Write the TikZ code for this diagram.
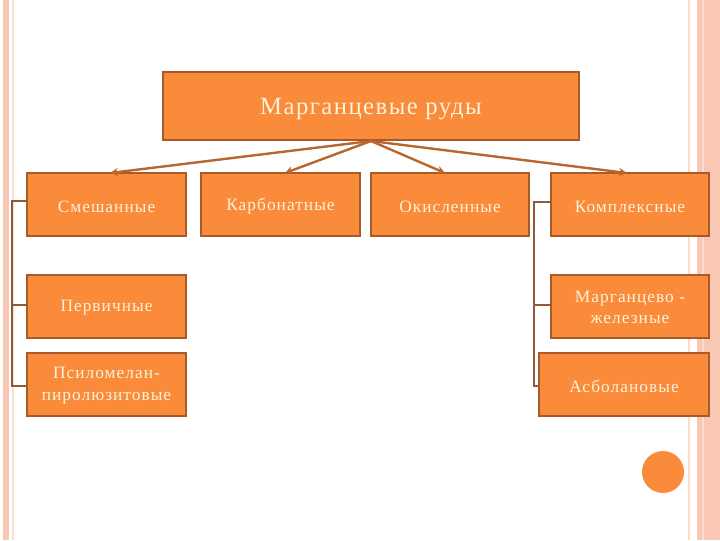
\documentclass[tikz,border=0pt]{standalone}
\usepackage{fontspec}
\setmainfont{Liberation Serif}
\newfontfamily\wide[LetterSpace=6]{Liberation Serif}
\usetikzlibrary{arrows.meta}
\definecolor{boxfill}{HTML}{F98B3A}
\definecolor{boxedge}{HTML}{A85A28}
\definecolor{txt}{HTML}{FFF2DC}
\definecolor{arr}{HTML}{B8652E}
\definecolor{brk}{HTML}{8E5A3A}
\definecolor{stripe}{HTML}{F9C8B4}
\definecolor{stripel}{HTML}{FBDCCE}
\tikzset{
  obox/.style={draw=boxedge, line width=1pt, fill=boxfill, text=txt, align=center, font=\wide\fontsize{13}{16}\selectfont},
  conn/.style={draw=arr, line width=1.8pt, -{Stealth[length=6pt,width=6pt]}},
  brack/.style={draw=brk, line width=1pt},
}
\begin{document}
\begin{tikzpicture}[x=0.75pt,y=-0.75pt]
\useasboundingbox (0,0) rectangle (720,540);
% decorative stripes
\fill[stripe] (3,0) rectangle (9,540);
\draw[stripel, line width=1pt] (13,0) -- (13,540);
\draw[stripel, line width=1pt] (689,0) -- (689,540);
\fill[stripe] (697,0) rectangle (720,540);
\draw[stripel, line width=1pt] (703,0) -- (703,540);
% boxes
\path[obox] (163,72) rectangle (579,140);
\node[text=txt, font=\wide\fontsize{18.5}{22}\selectfont] (top) at (371,109) {Марганцевые руды};
\coordinate (topc) at (371,141);
\path[obox] (27,173) rectangle (186,236);
\node[obox, draw=none, fill=none] (sm) at (106.5,206.5) {Смешанные};
\path[obox] (201,173) rectangle (360,236);
\node[obox, draw=none, fill=none] (ka) at (280.5,206.5) {Карбонатные};
\path[obox] (371,173) rectangle (529,236);
\node[obox, draw=none, fill=none] (ok) at (450,206.5) {Окисленные};
\path[obox] (551,173) rectangle (709,236);
\node[obox, draw=none, fill=none] (ko) at (630,206.5) {Комплексные};
\path[obox] (27,275) rectangle (186,338);
\node[obox, draw=none, fill=none] (pe) at (106.5,308) {Первичные};
\path[obox] (27,353) rectangle (186,416);
\node[obox, draw=none, fill=none] (ps) at (106.5,385.5) {Псиломелан-\\пиролюзитовые};
\path[obox] (551,275) rectangle (709,338);
\node[obox, draw=none, fill=none] (mz) at (630,307.5) {Марганцево -\\железные};
\path[obox] (539,353) rectangle (709,416);
\node[obox, draw=none, fill=none] (as) at (624,386.5) {Асболановые};
% arrows
\coordinate (a1) at (110,173);
\coordinate (a2) at (285,173);
\coordinate (a3) at (445,173);
\coordinate (a4) at (627,173);
\draw[conn] (topc) -- (a1);
\draw[conn] (topc) -- (a2);
\draw[conn] (topc) -- (a3);
\draw[conn] (topc) -- (a4);
% brackets
\draw[brack] (27,201) -- (12,201) -- (12,386) -- (27,386);
\draw[brack] (12,305) -- (27,305);
\draw[brack] (551,202) -- (534,202) -- (534,386) -- (539,386);
\draw[brack] (534,305) -- (551,305);
% circle
\fill[boxfill] (663,472) circle (21);
\end{tikzpicture}
\end{document}
